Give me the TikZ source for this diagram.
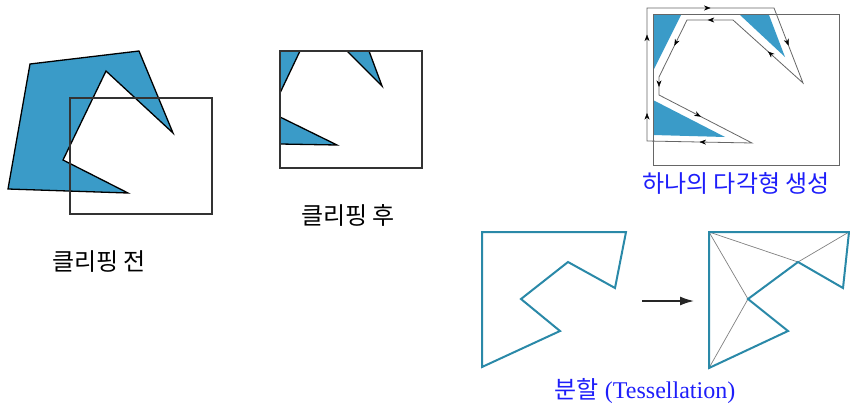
\documentclass[tikz,border=0pt]{standalone}
\usepackage{fontspec}
\setmainfont{Liberation Serif}
\newfontfamily\kr{Noto Sans CJK KR}
\usetikzlibrary{arrows.meta,decorations.markings}
\definecolor{fillblue}{RGB}{58,155,200}
\definecolor{tealline}{RGB}{42,137,168}
\definecolor{txtblue}{RGB}{30,30,250}
\tikzset{
  poly/.style={fill=fillblue, draw=black, line width=1.3pt, line join=miter},
  cliprect/.style={draw=black!80, line width=1.1pt},
  graypath/.style={draw=black!60, line width=0.8pt},
  pathmark/.style={postaction={decorate}, decoration={markings,
     mark=at position #1 with {\arrow{Stealth[length=6.5pt,width=5pt]}}}},
  tess/.style={draw=tealline, line width=2pt, line join=miter},
  diag/.style={draw=black!50, line width=0.7pt},
  lbl/.style={inner sep=0pt, font=\kr\fontsize{24}{28}\selectfont},
  bluelbl/.style={inner sep=0pt, text=txtblue, font=\fontsize{24}{28}\selectfont}
}
\begin{document}
\begin{tikzpicture}[x=1pt,y=-1pt]
\useasboundingbox (0,0) rectangle (850,404);
% ---- figure 1: before clipping
\filldraw[poly] (8,189) -- (30,64) -- (139,51) -- (173,133) -- (106,71) -- (63,160) -- (128,193) -- cycle;
\draw[cliprect] (70,98) rectangle (212,214);
\node[lbl] (before) at (99,262) {클리핑 전};
% ---- figure 2: after clipping
\filldraw[poly] (280,51) -- (300,51) -- (280,93) -- cycle;
\filldraw[poly] (347,51) -- (369,51) -- (382,86) -- cycle;
\filldraw[poly] (280,117) -- (337,145) -- (280,144) -- cycle;
\draw[cliprect] (280,51) rectangle (422,168);
\node[lbl] (after) at (348,215) {클리핑 후};
% ---- figure 3: single polygon
\fill[fillblue] (653,15) -- (681,15) -- (653,71) -- cycle;
\fill[fillblue] (740,15) -- (769,15) -- (785,57) -- cycle;
\fill[fillblue] (653,100) -- (725,137) -- (653,135) -- cycle;
\draw[draw=black!60, line width=0.9pt] (653,14) rectangle (839,165);
\coordinate (p1) at (647,8);
\coordinate (p2) at (774,8);
\coordinate (p3) at (803,83);
\coordinate (p4) at (733,20);
\coordinate (p5) at (687,20);
\coordinate (p6) at (659,77);
\coordinate (p7) at (659,95);
\coordinate (p8) at (752,143);
\coordinate (p9) at (647,141);
\draw[graypath, line join=miter] (p1) -- (p2) -- (p3) -- (p4) -- (p5) -- (p6) -- (p7) -- (p8) -- (p9) -- cycle;
\path[pathmark=0.5] (p1) -- (p2);
\path[pathmark=0.5] (p2) -- (p3);
\path[pathmark=0.5] (p3) -- (p4);
\path[pathmark=0.55] (p4) -- (p5);
\path[pathmark=0.45] (p5) -- (p6);
\path[pathmark=0.55] (p6) -- (p7);
\path[pathmark=0.45] (p7) -- (p8);
\path[pathmark=0.5] (p8) -- (p9);
\path[pathmark=0.21] (p9) -- (p1);
\path[pathmark=0.8] (p9) -- (p1);
\node[bluelbl, font=\kr\fontsize{24}{28}\selectfont] (single) at (736,183) {하나의 다각형 생성};
% ---- figure 4: tessellation
\draw[tess] (482,232) -- (626,232) -- (615,288) -- (568,262) -- (521,299) -- (560,331) -- (482,367) -- cycle;
\coordinate (q1) at (709,232);
\coordinate (q2) at (849,232);
\coordinate (q3) at (843,288);
\coordinate (q4) at (798,262);
\coordinate (q5) at (748,299);
\coordinate (q6) at (788,331);
\coordinate (q7) at (709,368);
\draw[diag] (q1) -- (q4) -- (q2);
\draw[diag] (q1) -- (q5) -- (q7);
\draw[tess] (q1) -- (q2) -- (q3) -- (q4) -- (q5) -- (q6) -- (q7) -- cycle;
\coordinate (a1) at (642,301);
\coordinate (a2) at (694,301);
\draw[line width=1.5pt, black!85, -{Latex[length=14pt,width=9pt]}] (a1) -- (a2);
\node[bluelbl] (tessl) at (645,391) {{\kr 분할} (Tessellation)};
\end{tikzpicture}
\end{document}
